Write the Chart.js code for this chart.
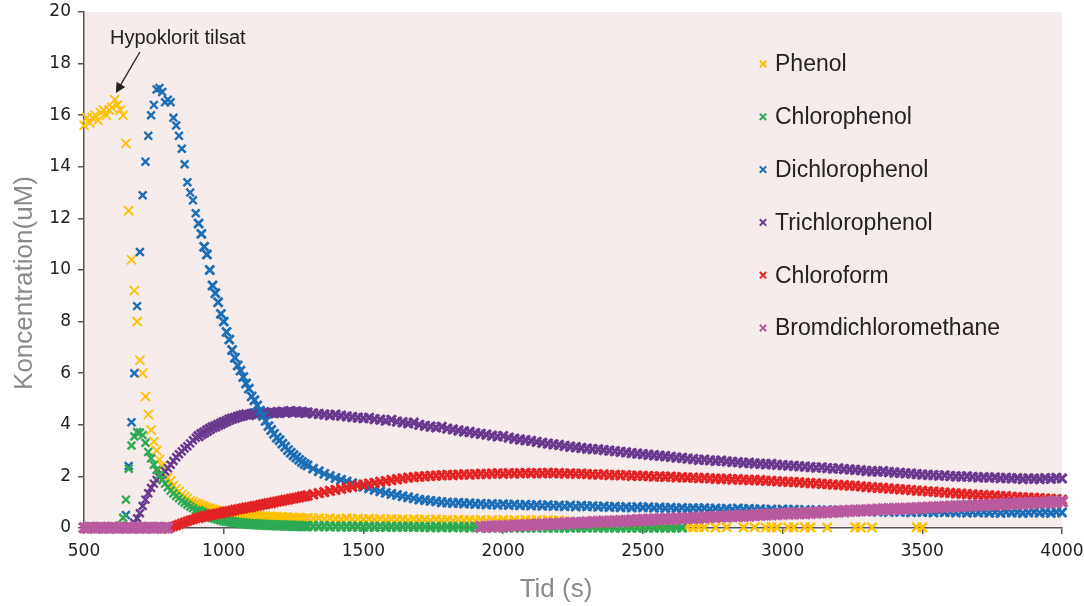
<!DOCTYPE html>
<html>
<head>
<meta charset="utf-8">
<script src="https://cdn.jsdelivr.net/npm/chart.js@4.4.1/dist/chart.umd.min.js"></script>
<style>
  html, body { margin: 0; padding: 0; background: #ffffff; }
  #wrap { width: 1084px; height: 606px; position: relative; }
</style>
</head>
<body>
<div id="wrap"><canvas id="koncChart"></canvas></div>
<script>
// Time axis (s) - 10 s steps up to 1300 s, 20 s steps after that
var tid = [
  500, 510, 520, 530, 540, 550, 560, 570, 580, 590,
  600, 610, 620, 630, 640, 650, 660, 670, 680, 690,
  700, 710, 720, 730, 740, 750, 760, 770, 780, 790,
  800, 810, 820, 830, 840, 850, 860, 870, 880, 890,
  900, 910, 920, 930, 940, 950, 960, 970, 980, 990,
  1000, 1010, 1020, 1030, 1040, 1050, 1060, 1070, 1080, 1090,
  1100, 1110, 1120, 1130, 1140, 1150, 1160, 1170, 1180, 1190,
  1200, 1210, 1220, 1230, 1240, 1250, 1260, 1270, 1280, 1290,
  1300,
  1320, 1340, 1360, 1380, 1400, 1420, 1440, 1460, 1480, 1500,
  1520, 1540, 1560, 1580, 1600, 1620, 1640, 1660, 1680, 1700,
  1720, 1740, 1760, 1780, 1800, 1820, 1840, 1860, 1880, 1900,
  1920, 1940, 1960, 1980, 2000, 2020, 2040, 2060, 2080, 2100,
  2120, 2140, 2160, 2180, 2200, 2220, 2240, 2260, 2280, 2300,
  2320, 2340, 2360, 2380, 2400, 2420, 2440, 2460, 2480, 2500,
  2520, 2540, 2560, 2580, 2600, 2620, 2640, 2660, 2680, 2700,
  2720, 2740, 2760, 2780, 2800, 2820, 2840, 2860, 2880, 2900,
  2920, 2940, 2960, 2980, 3000, 3020, 3040, 3060, 3080, 3100,
  3120, 3140, 3160, 3180, 3200, 3220, 3240, 3260, 3280, 3300,
  3320, 3340, 3360, 3380, 3400, 3420, 3440, 3460, 3480, 3500,
  3520, 3540, 3560, 3580, 3600, 3620, 3640, 3660, 3680, 3700,
  3720, 3740, 3760, 3780, 3800, 3820, 3840, 3860, 3880, 3900,
  3920, 3940, 3960, 3980, 4000
];

var phenol = [
  15.6, 15.9, 15.7, 15.9, 16.0, 15.8, 16.1, 16.2, 16.0, 16.2,
  16.3, 16.6, 16.4, 16.2, 16.0, 14.9, 12.3, 10.4, 9.2, 8.0,
  6.5, 6.0, 5.1, 4.4, 3.8, 3.35, 3.0, 2.65, 2.4, 2.2,
  1.95, 1.82, 1.65, 1.52, 1.42, 1.3, 1.22, 1.15, 1.06, 1.02,
  0.96, 0.92, 0.86, 0.83, 0.78, 0.76, 0.71, 0.69, 0.66, 0.64,
  0.62, 0.6, 0.57, 0.58, 0.54, 0.55, 0.51, 0.52, 0.49, 0.5,
  0.47, 0.48, 0.45, 0.47, 0.43, 0.46, 0.42, 0.45, 0.41, 0.44,
  0.4, 0.43, 0.39, 0.42, 0.38, 0.41, 0.37, 0.4, 0.38, 0.36,
  0.39,
  0.36, 0.38, 0.34, 0.37, 0.35, 0.33, 0.37, 0.34, 0.36, 0.33,
  0.35, 0.32, 0.35, 0.31, 0.34, 0.32, 0.33, 0.3, 0.34, 0.31,
  0.32, 0.29, 0.33, 0.3, 0.31, 0.28, 0.32, 0.29, 0.3, 0.28,
  0.31, 0.27, 0.3, 0.28, 0.31, 0.27, 0.3, 0.28, 0.31, 0.29,
  0.3, 0.27, 0.31, 0.28, 0.29, 0.26, 0.24, 0.22, 0.2, 0.18,
  0.16, 0.15, 0.13, 0.12, 0.11, 0.1, 0.09, 0.08, 0.08, 0.07,
  0.07, 0.06, 0.06, 0.05, 0.05, 0.04, 0.05, 0.04, 0.03, 0.04,
  0.03, null, 0.02, null, 0.03, null, null, 0.02, null, 0.03,
  null, 0.02, 0.03, 0.02, null, 0.03, 0.02, null, 0.03, 0.02,
  null, null, 0.02, null, null, null, null, 0.03, 0.02, null,
  0.02, null, null, null, null, null, null, null, 0.03, 0.02,
  null, null, null, null, null, null, null, null, null, null,
  null, null, null, null, null, null, null, null, null, null,
  null, null, null, null, null
];

var chlorophenol = [
  null, null, null, null, null, null, null, null, null, null,
  null, null, null, 0.1, 0.4, 1.1, 2.3, 3.2, 3.55, 3.72,
  3.7, 3.6, 3.3, 2.95, 2.7, 2.45, 2.25, 2.05, 1.88, 1.72,
  1.58, 1.45, 1.34, 1.24, 1.15, 1.06, 0.98, 0.9, 0.83, 0.77,
  0.7, 0.66, 0.6, 0.56, 0.5, 0.47, 0.42, 0.39, 0.36, 0.33,
  0.3, 0.28, 0.26, 0.24, 0.22, 0.21, 0.19, 0.18, 0.17, 0.16,
  0.15, 0.15, 0.14, 0.13, 0.13, 0.12, 0.12, 0.11, 0.11, 0.1,
  0.1, 0.1, 0.09, 0.09, 0.09, 0.08, 0.08, 0.08, 0.07, 0.07,
  0.07,
  0.07, 0.06, 0.07, 0.06, 0.06, 0.05, 0.06, 0.05, 0.05, 0.05,
  0.05, 0.04, 0.05, 0.04, 0.05, 0.04, 0.04, 0.05, 0.04, 0.04,
  0.04, 0.03, 0.04, 0.03, 0.04, 0.03, 0.04, 0.03, 0.03, 0.04,
  0.03, 0.02, 0.03, 0.03, 0.02, 0.03, 0.02, 0.03, 0.02, 0.03,
  0.02, 0.03, 0.02, 0.02, 0.03, 0.02, 0.02, 0.03, 0.02, 0.02,
  0.03, 0.02, 0.02, 0.03, 0.02, 0.02, 0.03, 0.02, 0.02, 0.03,
  0.02, 0.02, 0.03, 0.02, 0.02, 0.03, 0.02, null, null, null,
  null, null, null, null, null, null, null, null, null, null,
  null, null, null, null, null, null, null, null, null, null,
  null, null, null, null, null, null, null, null, null, null,
  null, null, null, null, null, null, null, null, null, null,
  null, null, null, null, null, null, null, null, null, null,
  null, null, null, null, null, null, null, null, null, null,
  null, null, null, null, null
];

var dichlorophenol = [
  null, null, null, null, null, null, null, null, null, null,
  null, null, null, null, null, 0.5, 2.4, 4.1, 6.0, 8.6,
  10.7, 12.9, 14.2, 15.2, 16.0, 16.4, 17.0, 17.05, 16.9, 16.5,
  16.6, 16.5, 15.9, 15.6, 15.2, 14.7, 14.1, 13.4, 13.0, 12.7,
  12.2, 11.8, 11.4, 10.9, 10.6, 10.0, 9.4, 9.1, 8.75, 8.3,
  8.0, 7.6, 7.3, 6.9, 6.6, 6.3, 6.1, 5.85, 5.6, 5.4,
  5.1, 4.95, 4.75, 4.55, 4.35, 4.15, 3.95, 3.8, 3.65, 3.5,
  3.4, 3.27, 3.15, 3.02, 2.92, 2.82, 2.73, 2.64, 2.56, 2.48,
  2.42,
  2.3, 2.2, 2.1, 2.02, 1.94, 1.87, 1.8, 1.74, 1.68, 1.6,
  1.54, 1.48, 1.42, 1.36, 1.32, 1.28, 1.23, 1.19, 1.15, 1.1,
  1.08, 1.05, 1.03, 1.0, 0.99, 0.97, 0.98, 0.95, 0.96, 0.93,
  0.94, 0.91, 0.93, 0.9, 0.92, 0.89, 0.91, 0.88, 0.9, 0.87,
  0.89, 0.86, 0.88, 0.85, 0.87, 0.84, 0.87, 0.83, 0.86, 0.84,
  0.85, 0.82, 0.84, 0.81, 0.83, 0.8, 0.82, 0.79, 0.82, 0.8,
  0.81, 0.78, 0.8, 0.77, 0.79, 0.76, 0.78, 0.75, 0.77, 0.76,
  0.77, 0.74, 0.76, 0.73, 0.75, 0.72, 0.76, 0.73, 0.74, 0.72,
  0.73, 0.7, 0.72, 0.69, 0.72, 0.7, 0.71, 0.68, 0.7, 0.67,
  0.7, 0.67, 0.69, 0.66, 0.68, 0.65, 0.67, 0.64, 0.67, 0.65,
  0.66, 0.63, 0.66, 0.62, 0.65, 0.63, 0.64, 0.61, 0.64, 0.62,
  0.63, 0.6, 0.64, 0.61, 0.62, 0.6, 0.63, 0.59, 0.62, 0.6,
  0.62, 0.59, 0.61, 0.58, 0.62, 0.6, 0.61, 0.58, 0.6, 0.62,
  0.59, 0.61, 0.58, 0.62, 0.6
];

var trichlorophenol = [
  null, null, null, null, null, null, null, null, null, null,
  null, null, null, null, null, null, null, null, 0.2, 0.38,
  0.57, 0.85, 1.1, 1.35, 1.55, 1.72, 1.86, 1.98, 2.08, 2.2,
  2.32, 2.45, 2.6, 2.74, 2.86, 2.97, 3.08, 3.17, 3.28, 3.4,
  3.5, 3.56, 3.64, 3.7, 3.77, 3.84, 3.9, 3.94, 4.0, 4.04,
  4.1, 4.14, 4.2, 4.24, 4.27, 4.31, 4.34, 4.37, 4.4, 4.38,
  4.42, 4.45, 4.41, 4.47, 4.43, 4.46, 4.44, 4.49, 4.45, 4.48,
  4.46, 4.51, 4.47, 4.5, 4.53, 4.48, 4.52, 4.47, 4.5, 4.46,
  4.48,
  4.44, 4.42, 4.4, 4.37, 4.39, 4.35, 4.33, 4.3, 4.28, 4.26,
  4.27, 4.22, 4.2, 4.16, 4.19, 4.12, 4.1, 4.06, 4.08, 4.0,
  3.96, 3.93, 3.9, 3.92, 3.85, 3.82, 3.78, 3.74, 3.72, 3.68,
  3.65, 3.62, 3.58, 3.55, 3.56, 3.5, 3.46, 3.43, 3.4, 3.38,
  3.34, 3.3, 3.27, 3.24, 3.22, 3.18, 3.15, 3.13, 3.1, 3.08,
  3.06, 3.05, 3.02, 3.0, 2.98, 2.95, 2.93, 2.9, 2.88, 2.86,
  2.84, 2.82, 2.8, 2.78, 2.76, 2.73, 2.72, 2.69, 2.67, 2.64,
  2.65, 2.62, 2.6, 2.61, 2.58, 2.56, 2.55, 2.52, 2.53, 2.5,
  2.49, 2.47, 2.48, 2.45, 2.44, 2.42, 2.41, 2.39, 2.38, 2.36,
  2.34, 2.35, 2.32, 2.3, 2.31, 2.28, 2.27, 2.25, 2.24, 2.21,
  2.2, 2.19, 2.2, 2.17, 2.15, 2.14, 2.12, 2.11, 2.09, 2.07,
  2.06, 2.05, 2.03, 2.04, 2.01, 2.0, 1.99, 2.0, 1.98, 1.96,
  1.97, 1.95, 1.96, 1.93, 1.94, 1.92, 1.93, 1.9, 1.92, 1.91,
  1.9, 1.93, 1.91, 1.94, 1.92
];

var chloroform = [
  null, null, null, null, null, null, null, null, null, null,
  null, null, null, null, null, null, null, null, null, null,
  null, null, null, null, null, null, null, null, null, null,
  null, 0.02, 0.06, 0.1, 0.14, 0.18, 0.22, 0.26, 0.3, 0.33,
  0.37, 0.39, 0.42, 0.45, 0.47, 0.5, 0.52, 0.54, 0.56, 0.58,
  0.61, 0.63, 0.65, 0.67, 0.7, 0.72, 0.74, 0.76, 0.79, 0.8,
  0.82, 0.85, 0.86, 0.89, 0.91, 0.93, 0.96, 0.97, 1.0, 1.02,
  1.04, 1.06, 1.09, 1.1, 1.13, 1.15, 1.17, 1.19, 1.22, 1.23,
  1.26,
  1.3, 1.35, 1.39, 1.44, 1.48, 1.52, 1.57, 1.6, 1.65, 1.68,
  1.72, 1.75, 1.79, 1.82, 1.86, 1.89, 1.92, 1.95, 1.97, 1.99,
  2.0, 2.02, 2.03, 2.04, 2.06, 2.05, 2.07, 2.08, 2.07, 2.09,
  2.1, 2.09, 2.11, 2.12, 2.1, 2.13, 2.11, 2.12, 2.14, 2.12,
  2.13, 2.12, 2.14, 2.12, 2.13, 2.11, 2.12, 2.1, 2.11, 2.09,
  2.08, 2.07, 2.08, 2.05, 2.06, 2.04, 2.05, 2.02, 2.03, 2.02,
  2.01, 1.99, 2.0, 1.98, 1.99, 1.96, 1.97, 1.95, 1.95, 1.93,
  1.94, 1.92, 1.91, 1.9, 1.91, 1.88, 1.89, 1.87, 1.86, 1.86,
  1.85, 1.83, 1.83, 1.81, 1.8, 1.79, 1.78, 1.77, 1.75, 1.74,
  1.73, 1.71, 1.7, 1.68, 1.67, 1.66, 1.64, 1.63, 1.61, 1.59,
  1.58, 1.56, 1.55, 1.53, 1.52, 1.5, 1.49, 1.47, 1.45, 1.44,
  1.42, 1.41, 1.39, 1.37, 1.36, 1.34, 1.33, 1.31, 1.3, 1.28,
  1.27, 1.26, 1.25, 1.23, 1.23, 1.21, 1.2, 1.19, 1.18, 1.17,
  1.16, 1.14, 1.13, 1.12, 1.1
];

var bromdichloromethane = [
  0.01, 0.0, 0.02, 0.01, 0.0, 0.01, 0.02, 0.0, 0.01, 0.0,
  0.02, 0.01, 0.0, 0.01, 0.02, 0.0, 0.01, 0.0, 0.01, 0.02,
  0.0, 0.01, 0.0, 0.02, 0.01, 0.0, 0.01, 0.02, 0.0, 0.01,
  0.0, null, null, null, null, null, null, null, null, null,
  null, null, null, null, null, null, null, null, null, null,
  null, null, null, null, null, null, null, null, null, null,
  null, null, null, null, null, null, null, null, null, null,
  null, null, null, null, null, null, null, null, null, null,
  null,
  null, null, null, null, null, null, null, null, null, null,
  null, null, null, null, null, null, null, null, null, null,
  null, null, null, null, null, null, null, null, null, null,
  0.04, 0.05, 0.06, 0.07, 0.07, 0.08, 0.09, 0.1, 0.11, 0.12,
  0.13, 0.14, 0.15, 0.16, 0.17, 0.18, 0.19, 0.2, 0.2, 0.22,
  0.23, 0.24, 0.25, 0.25, 0.26, 0.27, 0.28, 0.29, 0.3, 0.31,
  0.32, 0.33, 0.34, 0.35, 0.35, 0.36, 0.37, 0.38, 0.39, 0.4,
  0.41, 0.42, 0.43, 0.44, 0.45, 0.46, 0.46, 0.47, 0.48, 0.5,
  0.51, 0.52, 0.53, 0.54, 0.55, 0.56, 0.57, 0.57, 0.58, 0.59,
  0.6, 0.61, 0.62, 0.63, 0.64, 0.65, 0.66, 0.67, 0.68, 0.69,
  0.7, 0.71, 0.72, 0.73, 0.74, 0.74, 0.75, 0.76, 0.77, 0.78,
  0.79, 0.8, 0.81, 0.82, 0.83, 0.84, 0.85, 0.86, 0.87, 0.88,
  0.89, 0.9, 0.91, 0.92, 0.93, 0.94, 0.95, 0.96, 0.96, 0.97,
  0.98, 0.99, 1.0, 1.01, 1.02
];

var seriesNames = ['Phenol', 'Chlorophenol', 'Dichlorophenol', 'Trichlorophenol', 'Chloroform', 'Bromdichloromethane'];
var seriesColors = ['#ffc000', '#2eaa52', '#1c6eb7', '#68398f', '#e32424', '#ba5a9e'];
var xTicks = [500, 1000, 1500, 2000, 2500, 3000, 3500, 4000];
var yTicks = [0, 2, 4, 6, 8, 10, 12, 14, 16, 18, 20];

function toPoints(values) {
  var pts = [];
  for (var i = 0; i < tid.length; i++) {
    if (values[i] !== null) pts.push({ x: tid[i], y: values[i] });
  }
  return pts;
}

var allSeries = [phenol, chlorophenol, dichlorophenol, trichlorophenol, chloroform, bromdichloromethane];
// later series sit on top, like the original (lower order = drawn last)
var drawOrder = [6, 3, 4, 5, 2, 1];
// marker size/stroke: [sparse early part, dense band after 900 s]
var markerSize = [[6.5, 6.5], [5.5, 6.5], [5.5, 6.3], [5.5, 6.5], [6, 6.5], [7, 7.5]];
var markerWidth = [[1.8, 2.4], [2.4, 3], [2.4, 2.8], [2.4, 3], [2.8, 3], [3.6, 3.8]];

var datasets = allSeries.map(function (vals, i) {
  return {
    label: seriesNames[i],
    data: toPoints(vals),
    showLine: false,
    pointStyle: 'crossRot',
    pointRadius: function (c) { return markerSize[i][c.raw && c.raw.x > 900 ? 1 : 0]; },
    pointBorderWidth: function (c) { return markerWidth[i][c.raw && c.raw.x > 900 ? 1 : 0]; },
    borderColor: seriesColors[i],
    backgroundColor: seriesColors[i],
    order: drawOrder[i],
    clip: false
  };
});

var plotBackground = {
  id: 'plotBackground',
  beforeDraw: function (chart) {
    var a = chart.chartArea, ctx = chart.ctx;
    ctx.save();
    ctx.fillStyle = '#f6eceb';
    ctx.fillRect(a.left, a.top, a.right - a.left, a.bottom - a.top);
    ctx.restore();
  }
};

var extras = {
  id: 'extras',
  afterDraw: function (chart) {
    var ctx = chart.ctx, xs = chart.scales.x, ys = chart.scales.y;
    ctx.save();

    // axis titles
    ctx.fillStyle = '#8a8a8a';
    ctx.font = '26px "Liberation Sans", Arial, sans-serif';
    ctx.textAlign = 'center';
    ctx.textBaseline = 'alphabetic';
    ctx.fillText('Tid (s)', 556, 597);
    ctx.save();
    ctx.translate(32, 283);
    ctx.rotate(-Math.PI / 2);
    ctx.fillText('Koncentration(uM)', 0, 0);
    ctx.restore();

    // annotation
    ctx.fillStyle = '#222222';
    ctx.font = '20px "Liberation Sans", Arial, sans-serif';
    ctx.textAlign = 'left';
    ctx.fillText('Hypoklorit tilsat', xs.getPixelForValue(593), ys.getPixelForValue(18.76));
    var x1 = xs.getPixelForValue(700), y1 = ys.getPixelForValue(18.45);
    var x2 = xs.getPixelForValue(614), y2 = ys.getPixelForValue(16.86);
    var ang = Math.atan2(y2 - y1, x2 - x1);
    ctx.strokeStyle = '#222222';
    ctx.lineWidth = 1.3;
    ctx.beginPath();
    ctx.moveTo(x1, y1);
    ctx.lineTo(x2 - Math.cos(ang) * 8, y2 - Math.sin(ang) * 8);
    ctx.stroke();
    ctx.beginPath();
    ctx.moveTo(x2, y2);
    ctx.lineTo(x2 - Math.cos(ang) * 10 + Math.sin(ang) * 5, y2 - Math.sin(ang) * 10 - Math.cos(ang) * 5);
    ctx.lineTo(x2 - Math.cos(ang) * 10 - Math.sin(ang) * 5, y2 - Math.sin(ang) * 10 + Math.cos(ang) * 5);
    ctx.closePath();
    ctx.fill();

    // legend
    ctx.font = '23px "Liberation Sans", Arial, sans-serif';
    ctx.textBaseline = 'middle';
    for (var i = 0; i < seriesNames.length; i++) {
      var ly = 64 + i * 52.8;
      var lx = 763;
      ctx.strokeStyle = seriesColors[i];
      ctx.lineWidth = 2;
      ctx.beginPath();
      ctx.moveTo(lx - 3.2, ly - 3.2); ctx.lineTo(lx + 3.2, ly + 3.2);
      ctx.moveTo(lx - 3.2, ly + 3.2); ctx.lineTo(lx + 3.2, ly - 3.2);
      ctx.stroke();
      ctx.fillStyle = '#222222';
      ctx.fillText(seriesNames[i], 775, ly + 1);
    }
    ctx.restore();
  }
};

var tickFont = { family: '"DejaVu Sans", sans-serif', size: 17 };

function noScalePadding(s) {
  s.paddingTop = 0; s.paddingBottom = 0; s.paddingLeft = 0; s.paddingRight = 0;
}

new Chart(document.getElementById('koncChart').getContext('2d'), {
  type: 'scatter',
  data: { datasets: datasets },
  options: {
    responsive: true,
    maintainAspectRatio: false,
    animation: false,
    devicePixelRatio: 1,
    events: [],
    layout: { padding: { top: 12, right: 22, left: 0, bottom: 0 } },
    plugins: {
      legend: { display: false },
      tooltip: { enabled: false }
    },
    scales: {
      x: {
        type: 'linear',
        min: xTicks[0],
        max: xTicks[xTicks.length - 1],
        afterBuildTicks: function (s) { s.ticks = xTicks.map(function (v) { return { value: v }; }); },
        ticks: { color: '#222222', font: tickFont, padding: 7, maxRotation: 0, autoSkip: false,
                 callback: function (v) { return String(v); } },
        grid: { drawOnChartArea: false, drawTicks: true, tickLength: 6, color: '#555555', lineWidth: 1.5 },
        border: { display: true, color: '#555555', width: 1.5 },
        afterFit: function (s) { s.height = 78; noScalePadding(s); }
      },
      y: {
        min: yTicks[0],
        max: yTicks[yTicks.length - 1],
        afterBuildTicks: function (s) { s.ticks = yTicks.map(function (v) { return { value: v }; }); },
        ticks: { color: '#222222', font: tickFont, padding: 7, autoSkip: false,
                 callback: function (v) { return String(v); } },
        grid: { drawOnChartArea: false, drawTicks: true, tickLength: 6, color: '#555555', lineWidth: 1.5 },
        border: { display: true, color: '#555555', width: 1.5 },
        afterFit: function (s) { s.width = 84; noScalePadding(s); }
      }
    }
  },
  plugins: [plotBackground, extras]
});
</script>
</body>
</html>
